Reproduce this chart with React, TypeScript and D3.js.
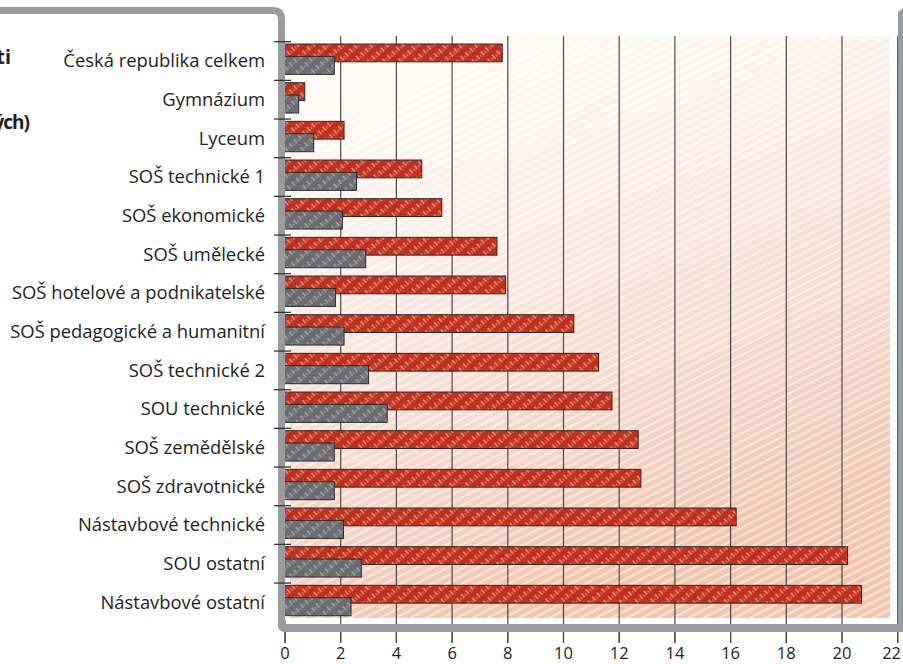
import React from "react";
import * as d3 from "d3";

const categories = [
  "Česká republika celkem",
  "Gymnázium",
  "Lyceum",
  "SOŠ technické 1",
  "SOŠ ekonomické",
  "SOŠ umělecké",
  "SOŠ hotelové a podnikatelské",
  "SOŠ pedagogické a humanitní",
  "SOŠ technické 2",
  "SOU technické",
  "SOŠ zemědělské",
  "SOŠ zdravotnické",
  "Nástavbové technické",
  "SOU ostatní",
  "Nástavbové ostatní",
];
const redValues = [7.8, 0.71, 2.12, 4.91, 5.63, 7.61, 7.92, 10.37, 11.26, 11.74, 12.68, 12.78, 16.2, 20.2, 20.7];
const greyValues = [1.77, 0.49, 1.03, 2.57, 2.06, 2.9, 1.81, 2.12, 3.0, 3.67, 1.77, 1.77, 2.1, 2.74, 2.37];
const xTicks = [0, 2, 4, 6, 8, 10, 12, 14, 16, 18, 20, 22];
const cutTitle = ["ti", "ých)"];

const W = 903;
const H = 664;
const FONT = "'Open Sans', 'Noto Sans', sans-serif";

export default function App() {
  const x = d3.scaleLinear().domain([0, 22]).range([285, 897.7]);
  const y = d3.scaleBand<string>().domain(categories).range([41.7, 621.7]);
  const bw = y.bandwidth();
  const frame = "#9a9b9e";

  return (
    <svg
      width={W}
      height={H}
      style={{ position: "absolute", left: 0, top: 0, background: "#fff" }}
    >
      <defs>
        <linearGradient id="bgGrad" x1="0" y1="0" x2="0.35" y2="1">
          <stop offset="0" stopColor="#ffffff" />
          <stop offset="0.35" stopColor="#fbf0eb" />
          <stop offset="0.75" stopColor="#f5d7c9" />
          <stop offset="1" stopColor="#f1c6b1" />
        </linearGradient>
        <pattern id="bgHatch" width="7" height="7" patternUnits="userSpaceOnUse" patternTransform="rotate(-27)">
          <line x1="0" y1="2" x2="7" y2="2" stroke="#ffffff" strokeWidth="1.6" strokeOpacity="0.65" />
        </pattern>
        <pattern id="redHatch" width="10" height="6" patternUnits="userSpaceOnUse" patternTransform="rotate(48)">
          <rect width="10" height="6" fill="#c0301d" />
          <line x1="0" y1="1" x2="10" y2="1" stroke="#fbd8cc" strokeWidth="1.1" strokeOpacity="0.85" strokeDasharray="5 5" />
          <line x1="2" y1="4" x2="10" y2="4" stroke="#ffffff" strokeWidth="0.8" strokeOpacity="0.55" strokeDasharray="3 7" />
        </pattern>
        <pattern id="greyHatch" width="10" height="6" patternUnits="userSpaceOnUse" patternTransform="rotate(48)">
          <rect width="10" height="6" fill="#6b6c70" />
          <line x1="0" y1="1" x2="10" y2="1" stroke="#f0f0f0" strokeWidth="1" strokeOpacity="0.7" strokeDasharray="5 5" />
          <line x1="2" y1="4" x2="10" y2="4" stroke="#ffffff" strokeWidth="0.7" strokeOpacity="0.45" strokeDasharray="3 7" />
        </pattern>
      </defs>

      {/* plot background */}
      <rect x={290} y={36} width={600} height={582} fill="url(#bgGrad)" />
      <rect x={290} y={36} width={600} height={582} fill="url(#bgHatch)" />

      {/* gridlines */}
      {xTicks.map((t) => (
        <line
          key={"g" + t}
          x1={x(t)}
          x2={x(t)}
          y1={t === 0 ? 620 : 36}
          y2={643}
          stroke="#4a4a4a"
          strokeWidth={1.2}
        />
      ))}

      {/* bars */}
      {categories.map((c, i) => (
        <g key={c}>
          <rect
            x={x(0) - 1}
            y={(y(c) as number) + 0.06 * bw}
            width={x(redValues[i]) - x(0) + 1}
            height={0.46 * bw}
            fill="url(#redHatch)"
            stroke="#2e2624"
            strokeWidth={1}
          />
          <rect
            x={x(0) - 1}
            y={(y(c) as number) + 0.38 * bw}
            width={x(greyValues[i]) - x(0) + 1}
            height={0.465 * bw}
            fill="url(#greyHatch)"
            stroke="#2a2a2a"
            strokeWidth={1}
          />
        </g>
      ))}

      {/* frame */}
      <path
        d={`M -20 7 L 273 7 Q 285 7 285 19 L 285 624 L 905 624 L 905 632 L 285 632 Q 278 632 278 625 L 278 19 Q 278 14 273 14 L -20 14 Z`}
        fill={frame}
      />
      <path d={`M 898 12 L 905 7 L 905 632 L 898 632 Z`} fill={frame} />

      {/* category boundary ticks */}
      {d3.range(categories.length).map((i) => (
        <line
          key={"t" + i}
          x1={274}
          x2={291}
          y1={(y(categories[i]) as number)}
          y2={(y(categories[i]) as number)}
          stroke="#333"
          strokeWidth={1.3}
        />
      ))}

      {/* x axis tick marks below frame */}
      {xTicks.map((t) => (
        <line key={"xt" + t} x1={x(t)} x2={x(t)} y1={632} y2={643} stroke="#4a4a4a" strokeWidth={1.2} />
      ))}

      {/* category labels */}
      {categories.map((c) => (
        <text
          key={"l" + c}
          x={265}
          y={(y(c) as number) + bw / 2}
          dy="0.35em"
          textAnchor="end"
          fontFamily={FONT}
          fontSize={18.4}
          fill="#1e1e1e"
        >
          {c}
        </text>
      ))}

      {/* x tick labels */}
      {xTicks.map((t, i) => (
        <text
          key={"xl" + t}
          x={i === xTicks.length - 1 ? 901 : x(t)}
          y={659}
          textAnchor={i === xTicks.length - 1 ? "end" : "middle"}
          fontFamily={FONT}
          fontSize={16.5}
          fill="#1e1e1e"
        >
          {t}
        </text>
      ))}

      {/* cut-off title fragments */}
      <text x={11} y={64} textAnchor="end" fontFamily={FONT} fontSize={20} fontWeight="bold" fill="#1e1e1e">
        {cutTitle[0]}
      </text>
      <text x={29} y={129} textAnchor="end" fontFamily={FONT} fontSize={19} fontWeight="bold" letterSpacing={-1} fill="#1e1e1e">
        {cutTitle[1]}
      </text>
    </svg>
  );
}
